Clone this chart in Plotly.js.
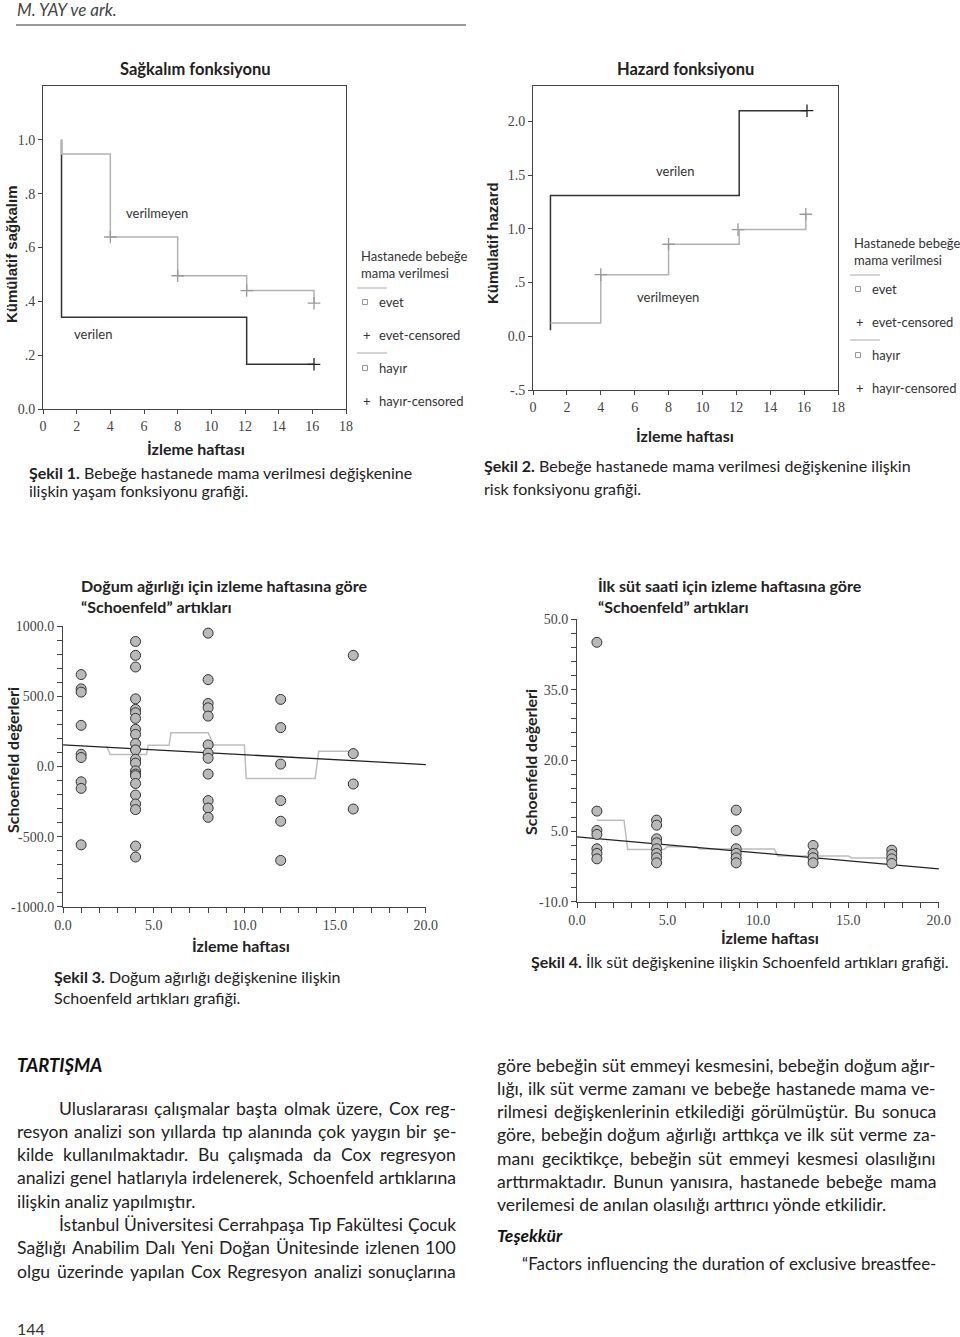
<!DOCTYPE html>
<html><head><meta charset="utf-8">
<script src="https://cdn.plot.ly/plotly-3.0.1.min.js"></script>
<style>html,body{margin:0;padding:0;background:#fff;}#g{width:960px;height:1337px;}</style>
</head><body><div id="g"></div>
<script>
const W = 960, H = 1337;
const SANS = "Lato, 'Open Sans', sans-serif";
const SERIF = "'Liberation Serif', 'DejaVu Serif', serif";
const NARROW = "'Liberation Sans Narrow', 'Liberation Sans', sans-serif";

// ---- Şekil 1: survival (Kaplan-Meier) ----
const survWeeksGiven = [1.1, 1.1, 12.1, 16.1];
const survGiven = [1.0, 0.341, 0.166, 0.166];
const survWeeksNotGiven = [1.1, 1.1, 4.0, 8.0, 12.1, 16.1];
const survNotGiven = [1.0, 0.947, 0.639, 0.495, 0.44, 0.393];
const survCensWeeksGiven = [16.1];
const survCensGiven = [0.166];
const survCensWeeksNotGiven = [4.0, 8.0, 12.1, 16.1];
const survCensNotGiven = [0.639, 0.495, 0.44, 0.393];
const survTicks = [0, 0.2, 0.4, 0.6, 0.8, 1.0];
const survTickText = ["0.0", ".2", ".4", ".6", ".8", "1.0"];
const weekTicks = [0, 2, 4, 6, 8, 10, 12, 14, 16, 18];

// ---- Şekil 2: cumulative hazard ----
const hazWeeksGiven = [1.03, 1.03, 12.17, 16.17];
const hazGiven = [0.056, 1.31, 2.10, 2.10];
const hazWeeksNotGiven = [1.03, 4.0, 8.0, 12.17, 16.1];
const hazNotGiven = [0.124, 0.574, 0.857, 0.993, 1.136];
const hazCensWeeksGiven = [16.17];
const hazCensGiven = [2.10];
const hazCensWeeksNotGiven = [4.0, 8.0, 12.1, 16.1];
const hazCensNotGiven = [0.574, 0.857, 0.993, 1.136];
const hazTicks = [-0.5, 0, 0.5, 1.0, 1.5, 2.0];
const hazTickText = ["-.5", "0.0", ".5", "1.0", "1.5", "2.0"];

// ---- Şekil 3: Schoenfeld residuals, birth weight ----
const bwWeeks = [1, 4, 8, 12, 16];
const bwResiduals = [
  [655, 553, 530, 293, 87, 64, -109, -156, -558],
  [891, 792, 709, 482, 407, 383, 343, 265, 229, 163, 118, 52, 24, -31, -54, -66, -121, -203, -267, -307, -567, -645],
  [950, 619, 449, 418, 359, 154, 95, 59, -54, -243, -296, -362],
  [478, 277, 17, -243, -390, -669],
  [792, 92, -125, -303]
];
const bwSmoothWeeks = [2.4, 2.6, 4.6, 4.7, 5.85, 5.95, 8.0, 8.3, 10.0, 10.1, 13.9, 14.1, 16.0];
const bwSmooth = [146, 85, 85, 151, 151, 241, 241, 154, 154, -85, -85, 109, 109];
const bwFitWeeks = [0, 20];
const bwFit = [154, 14];
const bwTicks = [-1000, -500, 0, 500, 1000];
const bwTickText = ["-1000.0", "-500.0", "0.0", "500.0", "1000.0"];

// ---- Şekil 4: Schoenfeld residuals, first milk hour ----
const milkWeeks = [1.1, 4.4, 8.8, 13.05, 17.4];
const milkResiduals = [
  [45.1, 9.25, 5.14, 4.3, 1.25, 0.26, -0.88],
  [7.34, 6.27, 3.37, 2.52, 1.25, 0.26, -0.66, -1.73],
  [9.46, 5.14, 1.25, 0.26, -0.66, -1.73],
  [1.96, 0.26, -0.66, -1.73],
  [0.96, 0.04, -0.88, -1.87]
];
const milkSmoothWeeks = [1.1, 2.6, 2.8, 4.8, 5.0, 6.6, 6.8, 10.9, 11.1, 15.0, 15.2, 17.4];
const milkSmooth = [7.3, 7.3, 1.1, 1.1, 1.7, 1.7, 1.2, 1.2, -0.3, -0.3, -0.7, -0.7];
const milkFitWeeks = [0, 20];
const milkFit = [3.8, -3.0];
const milkTicks = [-10, 5, 20, 35, 50];
const milkTickText = ["-10.0", "5.0", "20.0", "35.0", "50.0"];

// ---- texts ----
const leftColumn = [
  "Uluslararası çalışmalar başta olmak üzere, Cox reg-",
  "resyon analizi son yıllarda tıp alanında çok yaygın bir şe-",
  "kilde kullanılmaktadır. Bu çalışmada da Cox regresyon",
  "analizi genel hatlarıyla irdelenerek, Schoenfeld artıklarına",
  "ilişkin analiz yapılmıştır.",
  "İstanbul Üniversitesi Cerrahpaşa Tıp Fakültesi Çocuk",
  "Sağlığı Anabilim Dalı Yeni Doğan Ünitesinde izlenen 100",
  "olgu üzerinde yapılan Cox Regresyon analizi sonuçlarına"
];
const leftIndent = [true, false, false, false, false, true, false, false];
const leftJustify = [true, true, true, true, false, true, true, true];
const rightColumn = [
  "göre bebeğin süt emmeyi kesmesini, bebeğin doğum ağır-",
  "lığı, ilk süt verme zamanı ve bebeğe hastanede mama ve-",
  "rilmesi değişkenlerinin etkilediği görülmüştür. Bu sonuca",
  "göre, bebeğin doğum ağırlığı arttıkça ve ilk süt verme za-",
  "manı geciktikçe, bebeğin süt emmeyi kesmesi olasılığını",
  "arttırmaktadır. Bunun  yanısıra, hastanede bebeğe mama",
  "verilemesi de anılan olasılığı arttırıcı yönde etkilidir."
];
const rightJustify = [true, true, true, true, true, true, false];
const thanksLine = "“Factors influencing the duration of exclusive breastfee-";

// ---------- build ----------
const DARK = '#333', LIGHT = '#b2b2b2';
const traces = [];
function stepTrace(x, y, color, ax) {
  return {x, y, xaxis: 'x' + ax, yaxis: 'y' + ax, mode: 'lines', line: {shape: 'hv', color, width: 1.5}, hoverinfo: 'skip'};
}
function censTrace(x, y, color, ax) {
  return {x, y, xaxis: 'x' + ax, yaxis: 'y' + ax, mode: 'markers', marker: {symbol: 'cross-thin', size: 9, line: {color, width: 1.3}}, hoverinfo: 'skip'};
}
traces.push(stepTrace(survWeeksGiven, survGiven, DARK, ''));
traces.push(stepTrace(survWeeksNotGiven, survNotGiven, LIGHT, ''));
traces.push(censTrace(survCensWeeksNotGiven, survCensNotGiven, '#999', ''));
traces.push(censTrace(survCensWeeksGiven, survCensGiven, '#222', ''));
traces.push(stepTrace(hazWeeksGiven, hazGiven, DARK, '2'));
traces.push(stepTrace(hazWeeksNotGiven, hazNotGiven, LIGHT, '2'));
traces.push(censTrace(hazCensWeeksNotGiven, hazCensNotGiven, '#999', '2'));
traces.push(censTrace(hazCensWeeksGiven, hazCensGiven, '#222', '2'));

function scatterFrom(weeks, resid, ax) {
  const x = [], y = [];
  weeks.forEach((w, i) => resid[i].forEach(v => { x.push(w); y.push(v); }));
  return {x, y, xaxis: 'x' + ax, yaxis: 'y' + ax, mode: 'markers', hoverinfo: 'skip',
    marker: {symbol: 'circle', size: 10, color: '#b9b9b9', line: {color: '#333', width: 1}}};
}
traces.push({x: bwSmoothWeeks, y: bwSmooth, xaxis: 'x3', yaxis: 'y3', mode: 'lines', line: {color: '#bdbdbd', width: 1.5}, hoverinfo: 'skip'});
traces.push({x: bwFitWeeks, y: bwFit, xaxis: 'x3', yaxis: 'y3', mode: 'lines', line: {color: '#222', width: 1.3}, hoverinfo: 'skip'});
traces.push(scatterFrom(bwWeeks, bwResiduals, '3'));
traces.push({x: milkSmoothWeeks, y: milkSmooth, xaxis: 'x4', yaxis: 'y4', mode: 'lines', line: {color: '#bdbdbd', width: 1.5}, hoverinfo: 'skip'});
traces.push({x: milkFitWeeks, y: milkFit, xaxis: 'x4', yaxis: 'y4', mode: 'lines', line: {color: '#222', width: 1.3}, hoverinfo: 'skip'});
traces.push(scatterFrom(milkWeeks, milkResiduals, '4'));

const px = v => v / W, py = v => 1 - v / H;
const baseAxis = {showgrid: false, zeroline: false, showline: true, linecolor: '#444', linewidth: 1,
  ticks: 'outside', ticklen: 4, tickwidth: 1, tickcolor: '#444', fixedrange: true,
  tickfont: {family: SERIF, size: 14, color: '#444'}};
const ax = o => Object.assign({}, baseAxis, o);
const weekLabels = ["0.0", "5.0", "10.0", "15.0", "20.0"];

const layout = {
  width: W, height: H, margin: {l: 0, r: 0, t: 0, b: 0}, showlegend: false,
  paper_bgcolor: '#fff', plot_bgcolor: '#fff',
  xaxis: ax({domain: [px(43), px(346)], anchor: 'y', range: [0, 18], tickmode: 'array', tickvals: weekTicks, ticktext: weekTicks.map(String), mirror: true}),
  yaxis: ax({domain: [py(409), py(86)], anchor: 'x', range: [0, 1.2], tickmode: 'array', tickvals: survTicks, ticktext: survTickText, mirror: true}),
  xaxis2: ax({domain: [px(533), px(838)], anchor: 'y2', range: [0, 18], tickmode: 'array', tickvals: weekTicks, ticktext: weekTicks.map(String), mirror: true}),
  yaxis2: ax({domain: [py(390), py(86)], anchor: 'x2', range: [-0.5, 2.33], tickmode: 'array', tickvals: hazTicks, ticktext: hazTickText, mirror: true}),
  xaxis3: ax({domain: [px(63), px(426)], anchor: 'y3', range: [0, 20.01], tickmode: 'array', tickvals: [0, 5, 10, 15, 20], ticktext: weekLabels, ticklen: 5,
    minor: {tickmode: 'linear', tick0: 0, dtick: 1, ticks: 'outside', ticklen: 5, tickcolor: '#444'}}),
  yaxis3: ax({domain: [py(907), py(626)], anchor: 'x3', range: [-1001, 1001], tickmode: 'array', tickvals: bwTicks, ticktext: bwTickText, ticklen: 5,
    minor: {tickmode: 'linear', tick0: -1000, dtick: 100, ticks: 'outside', ticklen: 5, tickcolor: '#444'}}),
  xaxis4: ax({domain: [px(577), px(939)], anchor: 'y4', range: [0, 20.01], tickmode: 'array', tickvals: [0, 5, 10, 15, 20], ticktext: weekLabels, ticklen: 5,
    minor: {tickmode: 'linear', tick0: 0, dtick: 1, ticks: 'outside', ticklen: 5, tickcolor: '#444'}}),
  yaxis4: ax({domain: [py(902), py(619)], anchor: 'x4', range: [-10.05, 50.05], tickmode: 'array', tickvals: milkTicks, ticktext: milkTickText, ticklen: 5,
    minor: {tickmode: 'linear', tick0: -10, dtick: 3, ticks: 'outside', ticklen: 5, tickcolor: '#444'}}),
  annotations: [], shapes: []
};

function note(x, y, text, o = {}) {
  layout.annotations.push({xref: 'paper', yref: 'paper', x: px(x), y: py(y), text, showarrow: false,
    xanchor: o.xanchor || 'left', yanchor: 'middle', textangle: o.angle || 0, borderpad: 0,
    font: {family: o.family || SANS, size: o.size || 16, color: o.color || '#222'}});
}
function hline(x0, x1, y, color, width) {
  layout.shapes.push({type: 'line', xref: 'paper', yref: 'paper', x0: px(x0), x1: px(x1), y0: py(y), y1: py(y), line: {color, width}});
}
function square(cx, cy, s) {
  layout.shapes.push({type: 'rect', xref: 'paper', yref: 'paper', x0: px(cx - s / 2), x1: px(cx + s / 2), y0: py(cy + s / 2), y1: py(cy - s / 2), line: {color: '#999', width: 1}, fillcolor: '#fff'});
}
const ctx = document.createElement('canvas').getContext('2d');
function measure(t, size) { ctx.font = size + 'px Lato'; return ctx.measureText(t).width; }
function bodyLine(text, x0, x1, y, size, justify) {
  if (!justify) { note(x0, y, text, {size}); return; }
  const words = text.split(/\s+/).filter(Boolean);
  let widths = words.map(w => measure(w, size));
  let total = widths.reduce((a, b) => a + b, 0);
  const minGap = 0.27 * size;
  const room = x1 - x0 - minGap * (words.length - 1);
  if (total > room) {
    size = Math.round(size * room / total * 10) / 10;
    widths = words.map(w => measure(w, size));
    total = widths.reduce((a, b) => a + b, 0);
  }
  const gap = (x1 - x0 - total) / (words.length - 1);
  let x = x0;
  words.forEach((w, i) => { note(x, y, w, {size}); x += widths[i] + gap; });
}

// header
note(16, 10, '<i>M. YAY ve ark.</i>', {size: 17, color: '#444'});
hline(16, 466, 25, '#333', 1);

// chart 1 texts
note(195, 69, '<b>Sağkalım fonksiyonu</b>', {xanchor: 'center', size: 16.5});
note(12, 254, '<b>Kümülatif sağkalım</b>', {xanchor: 'center', angle: -90, family: NARROW, size: 15});
note(196, 448, '<b>İzleme haftası</b>', {xanchor: 'center', size: 16});
note(157, 213, 'verilmeyen', {xanchor: 'center', size: 13, color: '#333'});
note(93, 334, 'verilen', {xanchor: 'center', size: 13, color: '#333'});
note(28, 472, '<b>Şekil 1.</b> Bebeğe hastanede mama verilmesi değişkenine', {size: 16});
note(28, 491, 'ilişkin yaşam fonksiyonu grafiği.', {size: 16});

// legends
function legend(x, yTop) {
  note(x + 3, yTop, 'Hastanede bebeğe', {size: 13, color: '#333'});
  note(x + 3, yTop + 17, 'mama verilmesi', {size: 13, color: '#333'});
  hline(x, x + 30, yTop + 32, '#aaa', 1);
  square(x + 8, yTop + 46, 5); note(x + 21, yTop + 46, 'evet', {size: 13, color: '#333'});
  note(x + 10, yTop + 79, '+', {xanchor: 'center', size: 13, color: '#333'}); note(x + 21, yTop + 79, 'evet-censored', {size: 13, color: '#333'});
  hline(x, x + 30, yTop + 97, '#aaa', 1);
  square(x + 8, yTop + 112, 5); note(x + 21, yTop + 112, 'hayır', {size: 13, color: '#333'});
  note(x + 10, yTop + 145, '+', {xanchor: 'center', size: 13, color: '#333'}); note(x + 21, yTop + 145, 'hayır-censored', {size: 13, color: '#333'});
}
legend(357, 256);
legend(850, 243);

// chart 2 texts
note(685, 69, '<b>Hazard fonksiyonu</b>', {xanchor: 'center', size: 16.5});
note(493, 243, '<b>Kümülatif hazard</b>', {xanchor: 'center', angle: -90, family: NARROW, size: 15});
note(685, 435, '<b>İzleme haftası</b>', {xanchor: 'center', size: 16});
note(675, 171, 'verilen', {xanchor: 'center', size: 13, color: '#333'});
note(668, 297, 'verilmeyen', {xanchor: 'center', size: 13, color: '#333'});
note(483, 465, '<b>Şekil 2.</b> Bebeğe hastanede mama verilmesi değişkenine ilişkin', {size: 16});
note(483, 488, 'risk fonksiyonu grafiği.', {size: 16});

// chart 3 texts
note(80, 585, '<b>Doğum ağırlığı için izleme haftasına göre</b>', {size: 16});
note(80, 606, '<b>“Schoenfeld” artıkları</b>', {size: 16});
note(13, 760, '<b>Schoenfeld değerleri</b>', {xanchor: 'center', angle: -90, size: 16});
note(241, 945, '<b>İzleme haftası</b>', {xanchor: 'center', size: 16});
note(53, 977, '<b>Şekil 3.</b> Doğum ağırlığı değişkenine ilişkin', {size: 16});
note(53, 997, 'Schoenfeld artıkları grafiği.', {size: 16});

// chart 4 texts
note(597, 585, '<b>İlk süt saati için izleme haftasına göre</b>', {size: 16});
note(597, 606, '<b>“Schoenfeld” artıkları</b>', {size: 16});
note(530, 762, '<b>Schoenfeld değerleri</b>', {xanchor: 'center', angle: -90, size: 16});
note(770, 937, '<b>İzleme haftası</b>', {xanchor: 'center', size: 16});
note(530, 961, '<b>Şekil 4.</b> İlk süt değişkenine ilişkin Schoenfeld artıkları grafiği.', {size: 16});

// body text
const BODY = 17.6;
note(16, 1065, '<b><i>TARTIŞMA</i></b>', {size: 18.5, color: '#111'});
const leftY0 = 1108, lineGap = 23.3;
leftColumn.forEach((t, i) => bodyLine(t, leftIndent[i] ? 58 : 16, 455, leftY0 + i * lineGap, BODY, leftJustify[i]));
const rightY0 = 1065;
rightColumn.forEach((t, i) => bodyLine(t, 496, 935, rightY0 + i * lineGap, BODY, rightJustify[i]));
note(496, 1235, '<b><i>Teşekkür</i></b>', {size: 17.5, color: '#111'});
bodyLine(thanksLine, 521, 935, 1263, BODY, true);
note(16, 1328, '144', {size: 16, color: '#333'});

Plotly.newPlot('g', traces, layout, {staticPlot: true, displayModeBar: false});
</script></body></html>
